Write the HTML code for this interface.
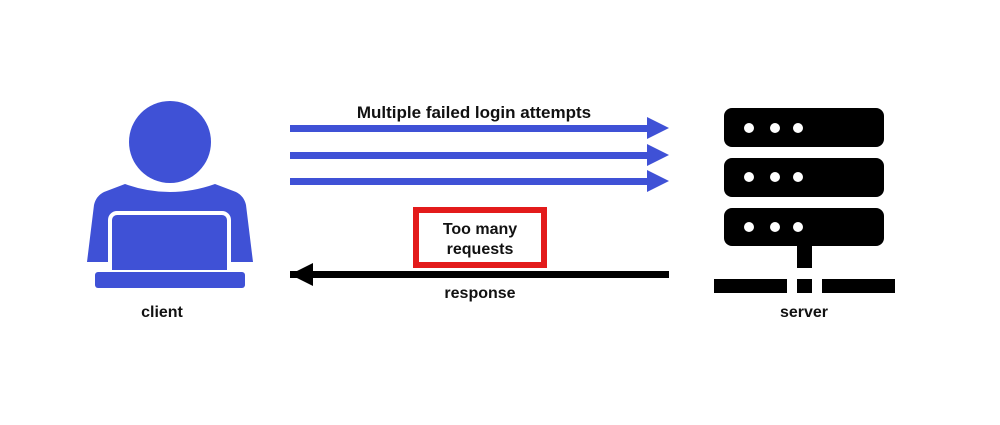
<!DOCTYPE html>
<html><head><style>
body{margin:0;background:#fff;}
svg text{font-family:"Liberation Sans",sans-serif;font-weight:bold;}
</style></head><body>
<svg width="1000" height="420" xmlns="http://www.w3.org/2000/svg">
<rect width="1000" height="420" fill="#fff"/>
<!-- client -->
<circle cx="170" cy="142" r="41" fill="#3f51d6"/>
<path d="M125 184 Q170 200 215 184 L236 192 Q244 196 246 205 L253 262 L87 262 L94 205 Q96 196 104 192 Z" fill="#3f51d6"/>
<rect x="110" y="213" width="119" height="65" rx="7" fill="#3f51d6" stroke="#fff" stroke-width="4"/>
<rect x="95" y="270" width="150" height="4" fill="#fff"/>
<rect x="95" y="272" width="150" height="16" rx="3" fill="#3f51d6"/>
<text x="162" y="317" font-size="16" text-anchor="middle" fill="#111">client</text>
<!-- server -->
<rect x="724" y="108" width="160" height="39" rx="8" fill="#000"/>
<rect x="724" y="158" width="160" height="39" rx="8" fill="#000"/>
<rect x="724" y="208" width="160" height="38" rx="8" fill="#000"/>
<g fill="#fff">
<circle cx="749" cy="128" r="5"/><circle cx="775" cy="128" r="5"/><circle cx="798" cy="128" r="5"/>
<circle cx="749" cy="177" r="5"/><circle cx="775" cy="177" r="5"/><circle cx="798" cy="177" r="5"/>
<circle cx="749" cy="227" r="5"/><circle cx="775" cy="227" r="5"/><circle cx="798" cy="227" r="5"/>
</g>
<rect x="797" y="246" width="15" height="22" fill="#000"/>
<rect x="714" y="279" width="73" height="14" fill="#000"/>
<rect x="797" y="279" width="15" height="14" fill="#000"/>
<rect x="822" y="279" width="73" height="14" fill="#000"/>
<text x="804" y="317" font-size="16" text-anchor="middle" fill="#111">server</text>
<!-- arrows -->
<text x="474" y="118" font-size="17" text-anchor="middle" fill="#111">Multiple failed login attempts</text>
<g fill="#3f51d6">
<rect x="290" y="125" width="360" height="7"/><polygon points="647,117 669,128 647,139"/>
<rect x="290" y="152" width="360" height="7"/><polygon points="647,144 669,155 647,166"/>
<rect x="290" y="178" width="360" height="7"/><polygon points="647,170 669,181 647,192"/>
</g>
<rect x="290" y="271" width="379" height="7" fill="#000"/>
<polygon points="290,274.5 313,263 313,286" fill="#000"/>
<rect x="416" y="210" width="128" height="55" fill="none" stroke="#e31b1b" stroke-width="6"/>
<text x="480" y="234" font-size="16" text-anchor="middle" fill="#111">Too many</text>
<text x="480" y="254" font-size="16" text-anchor="middle" fill="#111">requests</text>
<text x="480" y="298" font-size="16" text-anchor="middle" fill="#111">response</text>
</svg>
</body></html>
